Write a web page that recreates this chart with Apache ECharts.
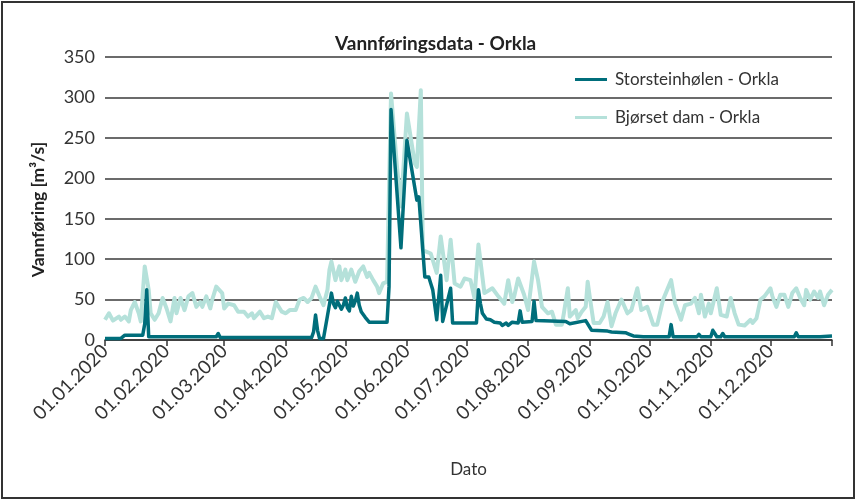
<!DOCTYPE html>
<html>
<head>
<meta charset="utf-8">
<title>Vannføringsdata - Orkla</title>
<script src="https://cdn.jsdelivr.net/npm/echarts@6/dist/echarts.min.js"></script>
<style>
  html, body { margin: 0; padding: 0; background: #fff; }
  #chart { width: 858px; height: 502px; }
</style>
</head>
<body>
<div id="chart"></div>
<script>
// dag i året (0 = 01.01.2020) og vannføring [m3/s], lest av figuren
const storDays = [0, 8, 10, 19, 20, 21, 22, 56, 57, 58, 104, 105, 106, 107, 108, 110, 111, 112, 114, 115, 116, 117, 118, 119, 120, 121, 122, 123, 124, 125, 126, 127, 128, 129, 131, 133, 142, 143, 144, 149, 152, 157, 158, 160, 161, 162, 163, 164, 165, 167, 169, 170, 174, 175, 187, 188, 189, 190, 192, 194, 196, 199, 200, 202, 203, 205, 208, 209, 210, 215, 216, 217, 232, 234, 242, 243, 245, 253, 254, 255, 262, 264, 266, 267, 271, 272, 273, 284, 285, 286, 298, 299, 300, 305, 306, 307, 308, 310, 311, 312, 347, 348, 349, 356, 357, 358, 360, 361, 366];
const storVals = [2, 2, 6, 6, 20, 62, 4, 4, 8, 3, 3, 10, 31, 12, 2, 2, 4, 30, 58, 45, 40, 48, 50, 38, 43, 52, 40, 36, 54, 42, 48, 58, 43, 35, 28, 22, 22, 66, 285, 114, 247, 173, 177, 111, 78, 77, 78, 70, 62, 25, 80, 23, 64, 21, 21, 62, 45, 33, 26, 25, 22, 21, 18, 21, 18, 22, 21, 36, 22, 23, 48, 24, 23, 20, 24, 22, 12, 11, 13, 10, 9, 7, 5, 4, 4, 6, 4, 4, 19, 4, 4, 7, 4, 4, 12, 8, 4, 4, 8, 4, 4, 9, 4, 4, 6, 4, 4, 5, 5];

const bjorDays = [0, 2, 4, 7, 8, 10, 12, 13, 15, 17, 18, 20, 22, 23, 25, 27, 29, 31, 33, 35, 36, 38, 40, 42, 44, 46, 48, 49, 51, 53, 54, 56, 59, 60, 62, 65, 67, 70, 72, 74, 75, 78, 80, 82, 84, 86, 89, 91, 93, 96, 98, 100, 102, 104, 106, 108, 110, 112, 113, 114, 116, 118, 119, 121, 122, 124, 126, 128, 130, 132, 133, 135, 137, 138, 140, 142, 144, 147, 149, 152, 156, 157, 159, 160, 162, 164, 167, 169, 172, 174, 176, 179, 181, 184, 186, 188, 191, 195, 198, 201, 203, 205, 206, 208, 211, 213, 216, 218, 220, 223, 225, 227, 230, 231, 233, 234, 237, 238, 240, 242, 243, 244, 246, 249, 251, 253, 255, 257, 260, 263, 265, 268, 270, 273, 276, 278, 281, 283, 285, 287, 290, 292, 295, 297, 299, 300, 302, 304, 305, 308, 310, 313, 315, 317, 319, 322, 325, 326, 328, 330, 332, 335, 336, 338, 340, 342, 344, 346, 348, 350, 352, 353, 355, 357, 359, 360, 362, 364, 366];
const bjorVals = [25, 33, 24, 29, 25, 29, 23, 37, 47, 33, 23, 91, 62, 33, 25, 33, 52, 39, 23, 52, 33, 52, 37, 54, 58, 41, 47, 41, 54, 39, 50, 66, 58, 39, 45, 43, 35, 35, 29, 33, 27, 35, 27, 29, 27, 47, 35, 33, 37, 37, 50, 52, 47, 52, 66, 54, 43, 62, 87, 97, 74, 91, 74, 87, 74, 87, 72, 85, 91, 78, 83, 74, 66, 58, 70, 72, 305, 214, 165, 280, 218, 214, 309, 111, 109, 107, 83, 128, 74, 124, 70, 66, 76, 74, 52, 118, 58, 64, 54, 45, 74, 47, 54, 76, 56, 37, 97, 74, 41, 33, 35, 19, 19, 33, 64, 29, 37, 27, 35, 41, 72, 54, 21, 21, 29, 47, 17, 33, 50, 33, 37, 64, 37, 41, 19, 19, 50, 62, 74, 45, 25, 43, 45, 52, 33, 56, 29, 45, 33, 64, 31, 29, 52, 33, 19, 18, 25, 21, 27, 50, 54, 64, 54, 41, 56, 56, 41, 58, 64, 52, 43, 62, 50, 60, 52, 60, 43, 56, 62];

// månedsstart (dag i året) og tekst på x-aksen
const monthDays = [0, 31, 60, 91, 121, 152, 182, 213, 244, 274, 305, 335];
const monthLabels = ['01.01.2020', '01.02.2020', '01.03.2020', '01.04.2020', '01.05.2020', '01.06.2020',
  '01.07.2020', '01.08.2020', '01.09.2020', '01.10.2020', '01.11.2020', '01.12.2020'];
const yTicks = [0, 50, 100, 150, 200, 250, 300, 350];

const seriesNames = ['Storsteinhølen - Orkla', 'Bjørset dam - Orkla'];
const darkColor = '#006e7b';
const lightColor = '#b5e1da';
const textColor = '#333';
const font = 'Lato, "Open Sans", sans-serif';

const chart = echarts.init(document.getElementById('chart'), null, { renderer: 'canvas' });

const option = {
  backgroundColor: '#fff',
  animation: false,
  textStyle: { fontFamily: font },
  title: {
    text: 'Vannføringsdata - Orkla',
    left: 330,
    top: 29,
    textStyle: { fontSize: 19, fontWeight: 'bold', color: '#222', fontFamily: font },
  },
  legend: {
    data: seriesNames,
    orient: 'vertical',
    left: 570,
    top: 66,
    icon: 'rect',
    itemWidth: 32,
    itemHeight: 3,
    itemGap: 21,
    textStyle: { fontSize: 17, color: textColor, fontFamily: font, padding: [0, 0, 0, 3] },
  },
  grid: {
    left: 105,
    right: 26,
    top: 57,
    bottom: 162,
  },
  xAxis: {
    type: 'value',
    min: 0,
    max: 366,
    name: 'Dato',
    nameLocation: 'middle',
    nameGap: 121,
    nameTextStyle: { fontSize: 17, color: textColor },
    splitLine: { show: false },
    axisLine: { show: true, lineStyle: { color: '#333', width: 1.5 } },
    axisTick: {
      show: true,
      length: 6,
      customValues: monthDays.concat([366]),
      lineStyle: { color: '#333', width: 1.5 },
    },
    axisLabel: {
      customValues: monthDays,
      rotate: 45,
      margin: 8,
      fontSize: 19,
      color: textColor,
      formatter: (value) => {
        const i = monthDays.indexOf(Math.round(value));
        return i >= 0 ? monthLabels[i] : '';
      },
    },
  },
  yAxis: {
    type: 'value',
    min: yTicks[0],
    max: yTicks[yTicks.length - 1],
    interval: 50,
    name: 'Vannføring [m³/s]',
    nameLocation: 'middle',
    nameRotate: 90,
    nameGap: 58,
    nameTextStyle: { fontSize: 17.5, fontWeight: 'bold', color: '#222', padding: [0, 0, 0, -22] },
    axisLine: { show: false },
    axisTick: { show: false },
    axisLabel: { fontSize: 18, color: textColor, margin: 10 },
    splitLine: { show: true, lineStyle: { color: '#3a3a3a', width: 1.5 } },
  },
  series: [
    {
      name: seriesNames[1],
      type: 'line',
      data: bjorDays.map((d, i) => [d, bjorVals[i]]),
      symbol: 'none',
      z: 2,
      lineStyle: { color: lightColor, width: 4, join: 'round' },
      itemStyle: { color: lightColor },
    },
    {
      name: seriesNames[0],
      type: 'line',
      data: storDays.map((d, i) => [d, storVals[i]]),
      symbol: 'none',
      z: 3,
      lineStyle: { color: darkColor, width: 3.5, join: 'round' },
      itemStyle: { color: darkColor },
    },
  ],
  graphic: [
    {
      type: 'rect',
      shape: { x: 2, y: 2, width: 852, height: 496 },
      style: { fill: null, stroke: '#333', lineWidth: 2 },
      silent: true,
    },
  ],
};

chart.setOption(option);
</script>
</body>
</html>
